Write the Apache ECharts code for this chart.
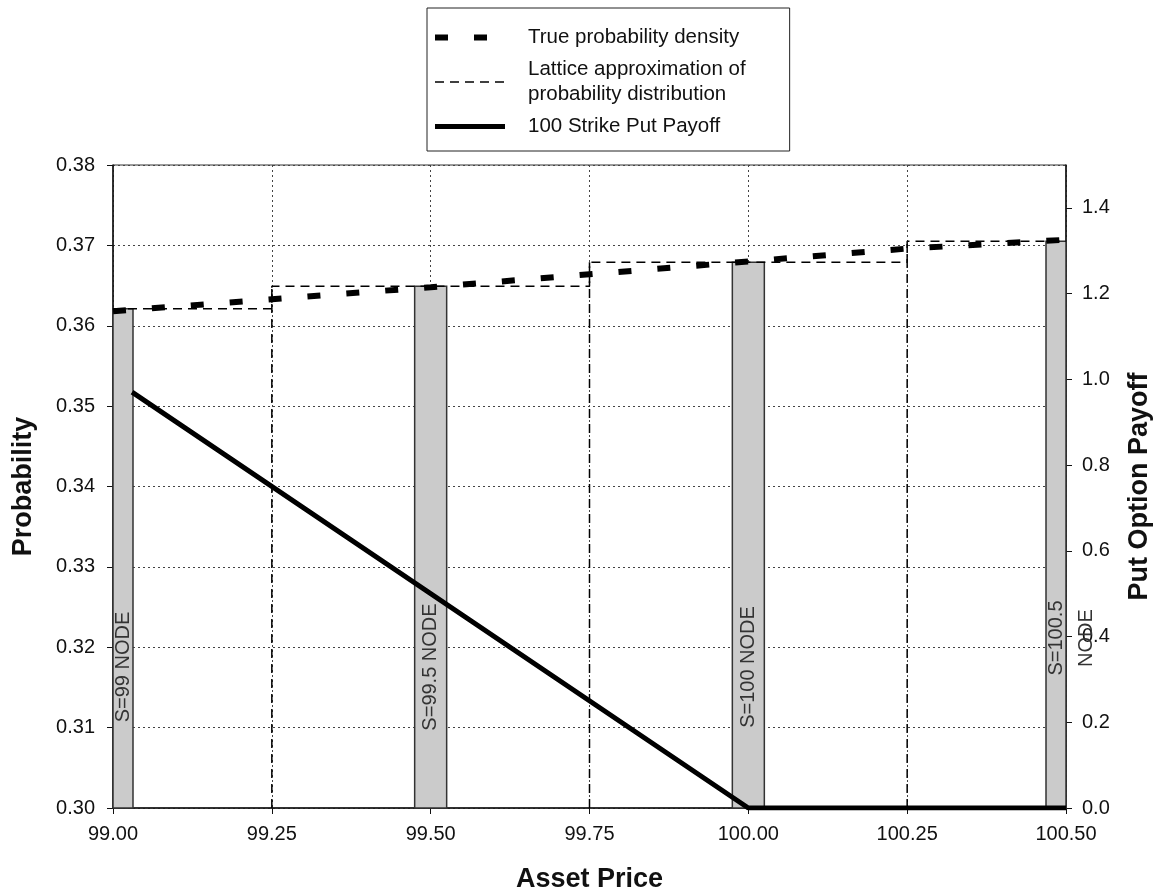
<!DOCTYPE html>
<html>
<head>
<meta charset="utf-8">
<title>Lattice vs true density</title>
<script src="https://cdn.jsdelivr.net/npm/echarts@6/dist/echarts.min.js"></script>
<style>
  html, body { margin: 0; padding: 0; background: #fff; }
  #chart { width: 1158px; height: 896px; }
</style>
</head>
<body>
<div id="chart"></div>
<script>
// lattice nodes (asset price) and their probabilities, left axis
const nodePrices = [99.0, 99.5, 100.0, 100.5];
const nodeProbs = [0.3621, 0.3649, 0.3679, 0.3705];
const nodeLabels = ['S=99 NODE', 'S=99.5 NODE', 'S=100 NODE', 'S=100.5\nNODE'];

// true probability density
const densityPrices = [99.0, 99.25, 99.5, 99.75, 100.0, 100.25, 100.5];
const densityValues = [0.3618, 0.3633, 0.3648, 0.3664, 0.3680, 0.3696, 0.3707];

// 100 strike put payoff, right axis
const payoffPrices = [99.03, 100.0, 100.5];
const payoffValues = [0.97, 0.0, 0.0];

// axis ticks
const priceTicks = [99.00, 99.25, 99.50, 99.75, 100.00, 100.25, 100.50];
const probTicks = [0.30, 0.31, 0.32, 0.33, 0.34, 0.35, 0.36, 0.37, 0.38];
const payoffTicks = [0.0, 0.2, 0.4, 0.6, 0.8, 1.0, 1.2, 1.4];
const payoffMax = 1.5;

const NAME_DENSITY = 'True probability density';
const NAME_LATTICE = 'Lattice approximation of\nprobability distribution';
const NAME_PAYOFF = '100 Strike Put Payoff';

const FONT = '"Liberation Sans", Arial, Helvetica, sans-serif';

const xMin = priceTicks[0];
const xMax = priceTicks[priceTicks.length - 1];
const yMin = probTicks[0];

// step function of the lattice: each node owns half the way to its neighbours
const latticeStep = [];
const latticeEdges = [];
nodePrices.forEach((p, i) => {
  const lo = i === 0 ? xMin : (nodePrices[i - 1] + p) / 2;
  const hi = i === nodePrices.length - 1 ? xMax : (p + nodePrices[i + 1]) / 2;
  latticeStep.push([lo, nodeProbs[i]], [hi, nodeProbs[i]]);
  if (i > 0) latticeEdges.push([lo, Math.max(nodeProbs[i - 1], nodeProbs[i])]);
});

const latticeStyle = { color: '#000', width: 1.5, type: [9, 6] };
const noSymbol = { color: 'rgba(0,0,0,0)', borderWidth: 0 };

const edgeSeries = latticeEdges.map(e => ({
  type: 'line',
  yAxisIndex: 0,
  symbol: 'none',
  silent: true,
  z: 3,
  lineStyle: latticeStyle,
  data: [[e[0], yMin], [e[0], e[1]]]
}));

const axisName = { fontSize: 27, fontWeight: 'bold', color: '#111' };
const tickLabel = { fontSize: 20, color: '#111' };

const chart = echarts.init(document.getElementById('chart'));

chart.setOption({
  animation: false,
  backgroundColor: '#fff',
  textStyle: { fontFamily: FONT },
  legend: {
    orient: 'vertical',
    left: 427,
    top: 8,
    padding: [17, 44, 12, 5],
    itemGap: 7,
    itemWidth: 70,
    itemHeight: 14,
    borderColor: '#222',
    borderWidth: 1,
    itemStyle: { opacity: 0 },
    lineStyle: { width: 'inherit' },
    textStyle: { fontSize: 20.5, color: '#111', lineHeight: 25, padding: [0, 0, 0, 18] },
    data: [NAME_DENSITY, NAME_LATTICE, NAME_PAYOFF]
  },
  grid: {
    left: 113,
    right: 92,
    top: 165,
    bottom: 88,
    outerBoundsMode: 'none',
    containLabel: false,
    show: true,
    borderColor: '#333',
    borderWidth: 1
  },
  xAxis: {
    type: 'value',
    min: xMin,
    max: xMax,
    interval: +(priceTicks[1] - priceTicks[0]).toFixed(4),
    name: 'Asset Price',
    nameLocation: 'middle',
    nameGap: 58,
    nameTextStyle: axisName,
    axisLine: { onZero: false, lineStyle: { color: '#111', width: 1.5 } },
    axisTick: { length: 6, lineStyle: { color: '#111' } },
    axisLabel: Object.assign({ margin: 16, formatter: v => v.toFixed(2) }, tickLabel),
    splitLine: { show: true, lineStyle: { color: '#444', type: [2, 3], width: 1 } }
  },
  yAxis: [
    {
      type: 'value',
      position: 'left',
      min: yMin,
      max: probTicks[probTicks.length - 1],
      interval: +(probTicks[1] - probTicks[0]).toFixed(4),
      name: 'Probability',
      nameLocation: 'middle',
      nameGap: 76,
      nameTextStyle: axisName,
      axisLine: { show: true, onZero: false, lineStyle: { color: '#111', width: 1.5 } },
      axisTick: { show: true, length: 6, lineStyle: { color: '#111' } },
      axisLabel: Object.assign({ margin: 18, formatter: v => v.toFixed(2) }, tickLabel),
      splitLine: { show: true, lineStyle: { color: '#444', type: [2, 3], width: 1 } }
    },
    {
      type: 'value',
      position: 'right',
      min: payoffTicks[0],
      max: payoffMax,
      interval: +(payoffTicks[1] - payoffTicks[0]).toFixed(4),
      name: 'Put Option Payoff',
      nameLocation: 'middle',
      nameGap: 60,
      nameTextStyle: axisName,
      axisLine: { show: true, onZero: false, lineStyle: { color: '#111', width: 1.5 } },
      axisTick: { show: true, length: 6, lineStyle: { color: '#111' } },
      axisLabel: Object.assign({ margin: 16, showMaxLabel: false, formatter: v => v.toFixed(1) }, tickLabel),
      splitLine: { show: false }
    }
  ],
  series: [
    {
      // grey node bars with their rotated labels
      type: 'custom',
      yAxisIndex: 0,
      silent: true,
      z: 1,
      data: nodePrices.map((p, i) => [p, nodeProbs[i], i]),
      renderItem: function (params, api) {
        const x = api.value(0);
        const idx = api.value(2);
        const top = api.coord([x, api.value(1)]);
        const base = api.coord([x, yMin]);
        const cs = params.coordSys;
        let x0 = top[0] - 16;
        let x1 = top[0] + 16;
        if (x0 < cs.x) { x0 = cs.x; x1 = cs.x + 20; }
        if (x1 > cs.x + cs.width) { x1 = cs.x + cs.width; x0 = x1 - 20; }
        const text = nodeLabels[idx];
        const lines = text.split('\n').length;
        const lh = 30;
        return {
          type: 'group',
          children: [
            {
              type: 'rect',
              shape: { x: x0, y: top[1], width: x1 - x0, height: base[1] - top[1] },
              style: { fill: '#cbcbcb', stroke: '#333', lineWidth: 1.5 }
            },
            {
              type: 'text',
              x: (x0 + x1) / 2 + (lines - 1) * lh / 2,
              y: base[1] - (lines > 1 ? 170 : 141),
              rotation: Math.PI / 2,
              style: {
                text: text,
                fontSize: 20,
                fontFamily: FONT,
                fill: '#333',
                align: 'center',
                verticalAlign: 'middle',
                lineHeight: lh
              }
            }
          ]
        };
      }
    },
    {
      name: NAME_LATTICE,
      type: 'line',
      yAxisIndex: 0,
      symbol: 'none',
      silent: true,
      z: 3,
      itemStyle: noSymbol,
      lineStyle: latticeStyle,
      data: latticeStep
    },
    ...edgeSeries,
    {
      name: NAME_PAYOFF,
      type: 'line',
      yAxisIndex: 1,
      symbol: 'none',
      silent: true,
      z: 4,
      itemStyle: noSymbol,
      lineStyle: { color: '#000', width: 5 },
      data: payoffPrices.map((p, i) => [p, payoffValues[i]])
    },
    {
      name: NAME_DENSITY,
      type: 'line',
      yAxisIndex: 0,
      symbol: 'none',
      silent: true,
      z: 5,
      itemStyle: noSymbol,
      lineStyle: { color: '#000', width: 6, type: [13, 26], cap: 'butt' },
      data: densityPrices.map((p, i) => [p, densityValues[i]])
    }
  ]
});
</script>
</body>
</html>
